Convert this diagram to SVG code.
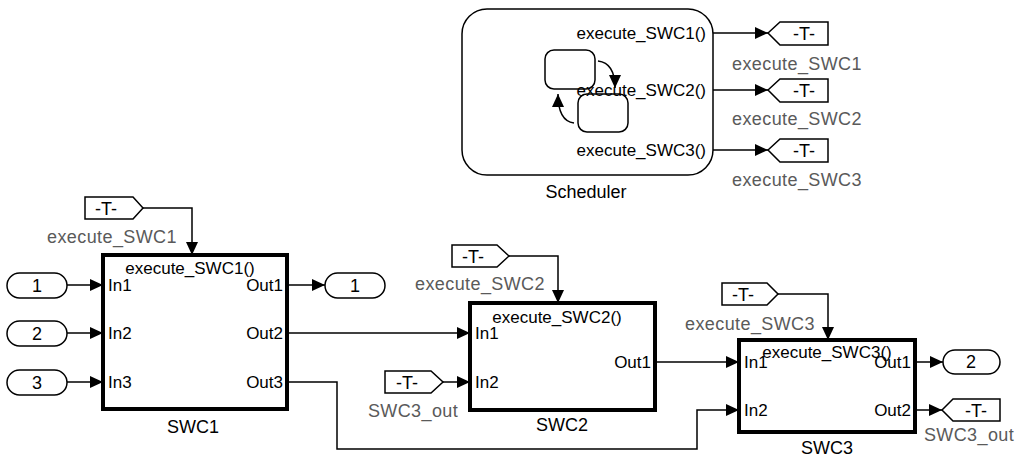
<svg xmlns="http://www.w3.org/2000/svg" width="1021" height="457" viewBox="0 0 1021 457">
<defs>
<marker id="ah" markerUnits="userSpaceOnUse" markerWidth="14" markerHeight="12" refX="13" refY="6" orient="auto">
<path d="M0,0 L13,6 L0,12 Z" fill="#000"/>
</marker>
<marker id="ahs" markerUnits="userSpaceOnUse" markerWidth="14" markerHeight="12" refX="13" refY="6" orient="auto">
<path d="M0,0 L13,6 L0,12 Z" fill="#000"/>
</marker>
<style>
text{font-family:"Liberation Sans",Arial,sans-serif;font-size:17px;fill:#000}
.g{fill:#5a5a5a;font-size:18px;letter-spacing:0.4px}
.n{font-size:18px}
.c{text-anchor:middle}
.r{text-anchor:end}
.blk{fill:#fff;stroke:#000;stroke-width:4}
.thin{fill:#fff;stroke:#000;stroke-width:1.5}
.ln{fill:none;stroke:#000;stroke-width:1.5}
.w{stroke:#000;stroke-width:1.5;fill:none;marker-end:url(#ah)}
</style>
</defs>

<g id="connectors">
<path class="w" d="M713,33 H768"/>
<path class="w" d="M713,90 H768"/>
<path class="w" d="M713,150 H768"/>
<path class="w" d="M143,208 H192 V255"/>
<path class="w" d="M67,285 H103"/>
<path class="w" d="M67,333 H103"/>
<path class="w" d="M67,382 H103"/>
<path class="w" d="M287,285 H325"/>
<path class="w" d="M287,333 H470"/>
<path class="w" d="M287,382 H337 V449 H697 V410 H739"/>
<path class="w" d="M509,256 H558 V303"/>
<path class="w" d="M443,382 H470"/>
<path class="w" d="M655,362 H739"/>
<path class="w" d="M778,294 H828 V340"/>
<path class="w" d="M915,362 H943"/>
<path class="w" d="M915,410 H942"/>
</g>

<g id="scheduler">
<rect class="thin" x="462" y="9" width="251" height="166" rx="25"/>
<rect class="ln" x="545" y="50" width="50" height="39" rx="9" stroke-width="2"/>
<rect class="thin" x="578" y="94" width="50" height="38" rx="9" stroke-width="2"/>
<path class="ln" d="M598,61 Q615,63 615,88" marker-end="url(#ahs)"/>
<path class="ln" d="M574,123 Q558,121 558,94" marker-end="url(#ahs)"/>
<text class="r" x="706" y="39">execute_SWC1()</text>
<text class="r" x="706" y="96">execute_SWC2()</text>
<text class="r" x="706" y="156">execute_SWC3()</text>
<text class="c n" x="586" y="198">Scheduler</text>
</g>

<g id="goto_execute_SWC1">
<polygon class="thin" points="768,33 780,22 828,22 828,45 780,45"/>
<text class="c n" x="804" y="40">-T-</text>
<text class="c g" x="797" y="70">execute_SWC1</text>
</g>
<g id="goto_execute_SWC2">
<polygon class="thin" points="768,90 780,79 828,79 828,102 780,102"/>
<text class="c n" x="804" y="97">-T-</text>
<text class="c g" x="797" y="125">execute_SWC2</text>
</g>
<g id="goto_execute_SWC3">
<polygon class="thin" points="768,150 780,139 828,139 828,162 780,162"/>
<text class="c n" x="804" y="157">-T-</text>
<text class="c g" x="797" y="186">execute_SWC3</text>
</g>

<g id="from_execute_SWC1">
<polygon class="thin" points="85,197 133,197 143,208 133,219 85,219"/>
<text class="c n" x="106" y="215">-T-</text>
<text class="c g" x="112" y="243">execute_SWC1</text>
</g>

<g id="in1">
<rect class="thin" x="7" y="273" width="60" height="25" rx="12.5"/>
<text class="c n" x="37" y="292">1</text>
</g>
<g id="in2">
<rect class="thin" x="7" y="321" width="60" height="25" rx="12.5"/>
<text class="c n" x="37" y="340">2</text>
</g>
<g id="in3">
<rect class="thin" x="7" y="370" width="60" height="25" rx="12.5"/>
<text class="c n" x="37" y="389">3</text>
</g>

<g id="SWC1">
<rect class="blk" x="103" y="255" width="184" height="154"/>
<text class="c" x="190" y="274">execute_SWC1()</text>
<text x="108" y="291">In1</text>
<text x="108" y="339">In2</text>
<text x="108" y="388">In3</text>
<text class="r" x="283" y="291">Out1</text>
<text class="r" x="283" y="339">Out2</text>
<text class="r" x="283" y="388">Out3</text>
<text class="c n" x="193" y="433">SWC1</text>
</g>

<g id="out1">
<rect class="thin" x="325" y="273" width="60" height="25" rx="12.5"/>
<text class="c n" x="355" y="292">1</text>
</g>

<g id="from_execute_SWC2">
<polygon class="thin" points="452,245 497,245 509,256 497,267 452,267"/>
<text class="c n" x="473" y="263">-T-</text>
<text class="c g" x="480" y="290">execute_SWC2</text>
</g>

<g id="from_SWC3_out">
<polygon class="thin" points="385,371 431,371 443,382 431,393 385,393"/>
<text class="c n" x="407" y="389">-T-</text>
<text class="c g" x="413" y="417">SWC3_out</text>
</g>

<g id="SWC2">
<rect class="blk" x="470" y="303" width="185" height="107"/>
<text class="c" x="557" y="323">execute_SWC2()</text>
<text x="475" y="339">In1</text>
<text x="475" y="388">In2</text>
<text class="r" x="651" y="368">Out1</text>
<text class="c n" x="562" y="431">SWC2</text>
</g>

<g id="from_execute_SWC3">
<polygon class="thin" points="722,283 767,283 778,294 767,305 722,305"/>
<text class="c n" x="743" y="301">-T-</text>
<text class="c g" x="750" y="330">execute_SWC3</text>
</g>

<g id="SWC3">
<rect class="blk" x="739" y="340" width="176" height="92"/>
<text x="744" y="368">In1</text>
<text x="744" y="416">In2</text>
<text class="r" x="911" y="368">Out1</text>
<text class="r" x="911" y="416">Out2</text>
<text class="c" x="827" y="358">execute_SWC3()</text>
<text class="c n" x="827" y="454">SWC3</text>
</g>

<g id="out2">
<rect class="thin" x="943" y="350" width="57" height="24" rx="12"/>
<text class="c n" x="971" y="368">2</text>
</g>

<g id="goto_SWC3_out">
<polygon class="thin" points="942,410 953,399 1000,399 1000,421 953,421"/>
<text class="c n" x="976" y="417">-T-</text>
<text class="c g" x="969" y="441">SWC3_out</text>
</g>
</svg>
